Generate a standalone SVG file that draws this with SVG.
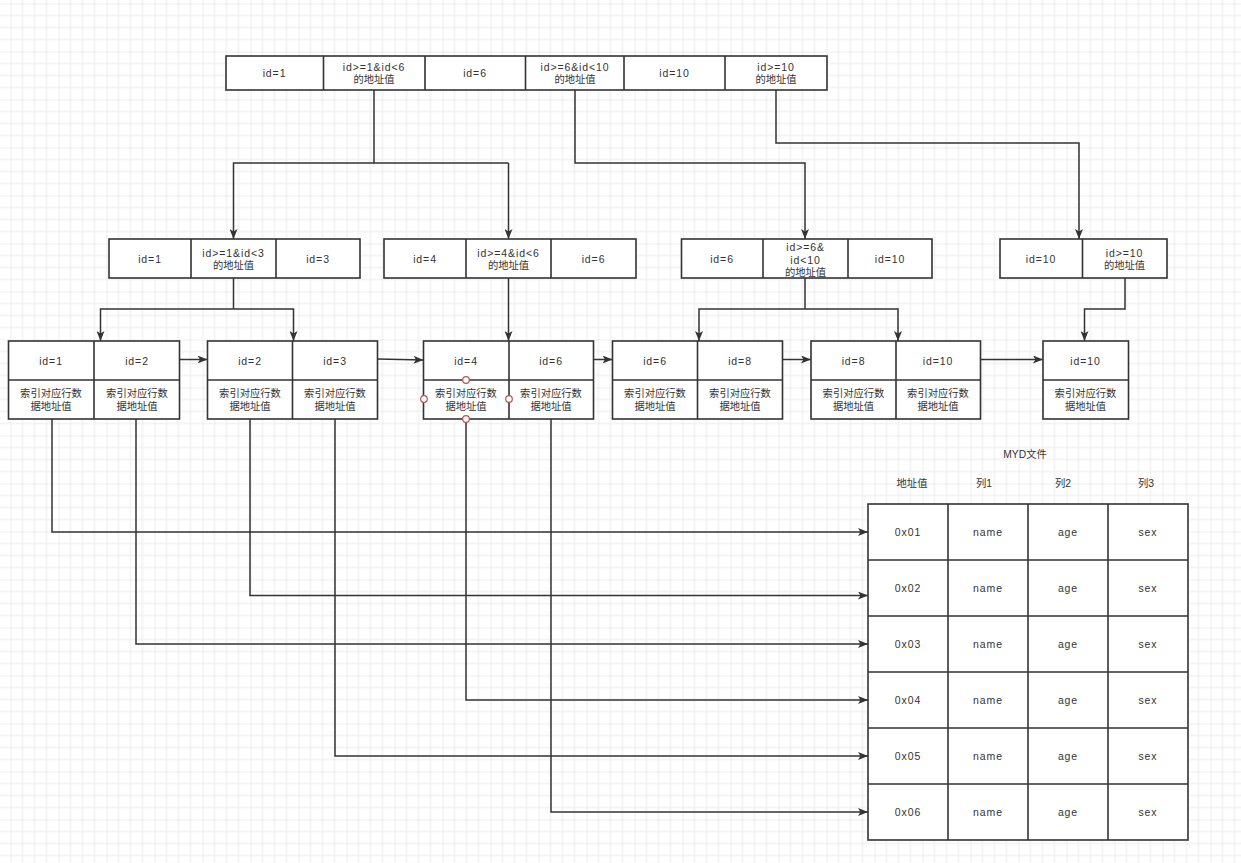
<svg xmlns="http://www.w3.org/2000/svg" width="1241" height="863" viewBox="0 0 1241 863">
<style>
.box{fill:#fff;stroke:#333;stroke-width:1.6}
.div{stroke:#333;stroke-width:1.6;fill:none}
.t{font-family:"Liberation Sans","Noto Sans CJK SC",sans-serif;font-size:10.5px;fill:#333;text-anchor:middle;dominant-baseline:central;letter-spacing:0.9px}
.c{letter-spacing:0px;font-size:10.3px}
.e{fill:none;stroke:#333;stroke-width:1.5}
.ea{fill:none;stroke:#333;stroke-width:1.5;marker-end:url(#arr)}
.pt{fill:#fff;stroke:#b85450;stroke-width:1.2}
</style>
<defs>
<pattern id="grid" x="10.5" y="3.5" width="48" height="48" patternUnits="userSpaceOnUse">
<path d="M12,0V48M24,0V48M36,0V48M0,12H48M0,24H48M0,36H48" stroke="#ebebeb" stroke-width="1" fill="none"/>
<path d="M0,0V48M0,0H48" stroke="#dddddd" stroke-width="1" fill="none"/>
</pattern>
<marker id="arr" viewBox="0 0 10 8" refX="10" refY="4" markerWidth="10" markerHeight="8" markerUnits="userSpaceOnUse" orient="auto">
<path d="M0,0 L10,4 L0,8 L2.5,4 z" fill="#333"/>
</marker>
</defs>
<rect width="1241" height="863" fill="#fff"/>
<rect width="1241" height="863" fill="url(#grid)"/>

<g id="connectors">
<path class="e" d="M374,90 V163 H508.5"/>
<path class="ea" d="M374,163 H233.5 V239"/>
<path class="ea" d="M508.5,163 V239"/>
<path class="ea" d="M575,90 V163 H805 V239"/>
<path class="ea" d="M776,90 V143 H1079 V239"/>
<path class="e" d="M233.5,278 V309"/>
<path class="ea" d="M233.5,309 H100.5 V341"/>
<path class="ea" d="M233.5,309 H293.5 V341"/>
<path class="ea" d="M508.5,278 V341"/>
<path class="e" d="M805,278 V309"/>
<path class="ea" d="M805,309 H699 V341"/>
<path class="ea" d="M805,309 H898 V341"/>
<path class="ea" d="M1125,278 V309 H1084.5 V341"/>
<path class="ea" d="M179.5,359.5 H207.5"/>
<path class="ea" d="M377.5,359 L423.5,360"/>
<path class="ea" d="M593.5,359.5 H612.5"/>
<path class="ea" d="M782.5,359.5 H811"/>
<path class="ea" d="M980.5,359.5 H1043"/>
<path class="ea" d="M52,419 V532 H868"/>
<path class="ea" d="M250,419 V595.5 H868"/>
<path class="ea" d="M136,419 V644 H868"/>
<path class="ea" d="M466,419 V700 H868"/>
<path class="ea" d="M335,419 V756 H868"/>
<path class="ea" d="M551,419 V812 H868"/>
</g>

<g id="root">
<rect class="box" x="226" y="56" width="601" height="34"/>
<path class="div" d="M323.5,56V90M425,56V90M525.5,56V90M624,56V90M725,56V90"/>
<text class="t" x="274.5" y="73">id=1</text>
<text class="t" x="374" y="67">id&gt;=1&amp;id&lt;6</text>
<text class="t c" x="374" y="79.5">的地址值</text>
<text class="t" x="475" y="73">id=6</text>
<text class="t" x="575" y="67">id&gt;=6&amp;id&lt;10</text>
<text class="t c" x="575" y="79.5">的地址值</text>
<text class="t" x="674.5" y="73">id=10</text>
<text class="t" x="776" y="67">id&gt;=10</text>
<text class="t c" x="776" y="79.5">的地址值</text>
</g>

<g id="branch-1">
<rect class="box" x="109" y="239" width="251" height="39"/>
<path class="div" d="M191,239V278M276,239V278"/>
<text class="t" x="150" y="258.5">id=1</text>
<text class="t" x="233.5" y="253">id&gt;=1&amp;id&lt;3</text>
<text class="t c" x="233.5" y="265.5">的地址值</text>
<text class="t" x="318" y="258.5">id=3</text>
</g>

<g id="branch-2">
<rect class="box" x="384" y="239" width="252" height="39"/>
<path class="div" d="M466,239V278M551,239V278"/>
<text class="t" x="425" y="258.5">id=4</text>
<text class="t" x="508.5" y="253">id&gt;=4&amp;id&lt;6</text>
<text class="t c" x="508.5" y="265.5">的地址值</text>
<text class="t" x="593.5" y="258.5">id=6</text>
</g>

<g id="branch-3">
<rect class="box" x="681.5" y="239" width="250.5" height="39"/>
<path class="div" d="M763,239V278M848,239V278"/>
<text class="t" x="722" y="258.5">id=6</text>
<text class="t" x="805.5" y="247">id&gt;=6&amp;</text>
<text class="t" x="805.5" y="259.5">id&lt;10</text>
<text class="t c" x="805.5" y="272">的地址值</text>
<text class="t" x="890" y="258.5">id=10</text>
</g>

<g id="branch-4">
<rect class="box" x="1000" y="239" width="167" height="39"/>
<path class="div" d="M1082.5,239V278"/>
<text class="t" x="1041" y="258.5">id=10</text>
<text class="t" x="1124.5" y="253">id&gt;=10</text>
<text class="t c" x="1124.5" y="265.5">的地址值</text>
</g>

<g id="leaf-1">
<rect class="box" x="8.5" y="341" width="171" height="78"/>
<path class="div" d="M94,341V419M8.5,380H179.5"/>
<text class="t" x="51" y="360.5">id=1</text>
<text class="t" x="137" y="360.5">id=2</text>
<text class="t c" x="51" y="393.5">索引对应行数</text>
<text class="t c" x="51" y="406">据地址值</text>
<text class="t c" x="137" y="393.5">索引对应行数</text>
<text class="t c" x="137" y="406">据地址值</text>
</g>

<g id="leaf-2">
<rect class="box" x="207.5" y="341" width="170" height="78"/>
<path class="div" d="M292.5,341V419M207.5,380H377.5"/>
<text class="t" x="250" y="360.5">id=2</text>
<text class="t" x="335" y="360.5">id=3</text>
<text class="t c" x="250" y="393.5">索引对应行数</text>
<text class="t c" x="250" y="406">据地址值</text>
<text class="t c" x="335" y="393.5">索引对应行数</text>
<text class="t c" x="335" y="406">据地址值</text>
</g>

<g id="leaf-3">
<rect class="box" x="423.5" y="341" width="170" height="78"/>
<path class="div" d="M509,341V419M423.5,380H593.5"/>
<text class="t" x="466" y="360.5">id=4</text>
<text class="t" x="551" y="360.5">id=6</text>
<text class="t c" x="466" y="393.5">索引对应行数</text>
<text class="t c" x="466" y="406">据地址值</text>
<text class="t c" x="551" y="393.5">索引对应行数</text>
<text class="t c" x="551" y="406">据地址值</text>
<circle class="pt" cx="466" cy="380" r="3.3"/>
<circle class="pt" cx="424" cy="399" r="3.3"/>
<circle class="pt" cx="509" cy="399" r="3.3"/>
<circle class="pt" cx="466" cy="419" r="3.3"/>
</g>

<g id="leaf-4">
<rect class="box" x="612.5" y="341" width="170" height="78"/>
<path class="div" d="M697.5,341V419M612.5,380H782.5"/>
<text class="t" x="655" y="360.5">id=6</text>
<text class="t" x="740" y="360.5">id=8</text>
<text class="t c" x="655" y="393.5">索引对应行数</text>
<text class="t c" x="655" y="406">据地址值</text>
<text class="t c" x="740" y="393.5">索引对应行数</text>
<text class="t c" x="740" y="406">据地址值</text>
</g>

<g id="leaf-5">
<rect class="box" x="811" y="341" width="169.5" height="78"/>
<path class="div" d="M896,341V419M811,380H980.5"/>
<text class="t" x="853.5" y="360.5">id=8</text>
<text class="t" x="938" y="360.5">id=10</text>
<text class="t c" x="853.5" y="393.5">索引对应行数</text>
<text class="t c" x="853.5" y="406">据地址值</text>
<text class="t c" x="938" y="393.5">索引对应行数</text>
<text class="t c" x="938" y="406">据地址值</text>
</g>

<g id="leaf-6">
<rect class="box" x="1043" y="341" width="85.5" height="78"/>
<path class="div" d="M1043,380H1128.5"/>
<text class="t" x="1085.5" y="360.5">id=10</text>
<text class="t c" x="1085.5" y="393.5">索引对应行数</text>
<text class="t c" x="1085.5" y="406">据地址值</text>
</g>

<g id="myd-table">
<text class="t c" x="1025" y="454">MYD文件</text>
<text class="t c" x="912" y="483">地址值</text>
<text class="t c" x="984" y="483">列1</text>
<text class="t c" x="1063" y="483">列2</text>
<text class="t c" x="1146" y="483">列3</text>
<rect class="box" x="868" y="504" width="320" height="336"/>
<path class="div" d="M948,504V840M1028,504V840M1108,504V840M868,560H1188M868,616H1188M868,672H1188M868,728H1188M868,784H1188"/>
<text class="t" x="908" y="532">0x01</text>
<text class="t" x="988" y="532">name</text>
<text class="t" x="1068" y="532">age</text>
<text class="t" x="1148" y="532">sex</text>
<text class="t" x="908" y="588">0x02</text>
<text class="t" x="988" y="588">name</text>
<text class="t" x="1068" y="588">age</text>
<text class="t" x="1148" y="588">sex</text>
<text class="t" x="908" y="644">0x03</text>
<text class="t" x="988" y="644">name</text>
<text class="t" x="1068" y="644">age</text>
<text class="t" x="1148" y="644">sex</text>
<text class="t" x="908" y="700">0x04</text>
<text class="t" x="988" y="700">name</text>
<text class="t" x="1068" y="700">age</text>
<text class="t" x="1148" y="700">sex</text>
<text class="t" x="908" y="756">0x05</text>
<text class="t" x="988" y="756">name</text>
<text class="t" x="1068" y="756">age</text>
<text class="t" x="1148" y="756">sex</text>
<text class="t" x="908" y="812">0x06</text>
<text class="t" x="988" y="812">name</text>
<text class="t" x="1068" y="812">age</text>
<text class="t" x="1148" y="812">sex</text>
</g>
</svg>
